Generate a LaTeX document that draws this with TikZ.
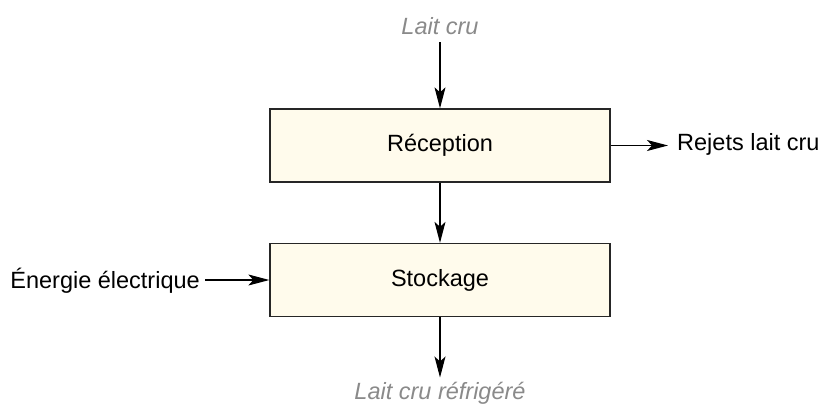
\documentclass[tikz,border=0pt]{standalone}
\usepackage{fontspec}
\setmainfont{Liberation Sans}
\usetikzlibrary{arrows.meta}
\definecolor{boxfill}{HTML}{FFFBEC}
\definecolor{flowgray}{HTML}{8A8A8A}
\begin{document}
\begin{tikzpicture}[x=1pt,y=-1pt,
  every node/.style={font=\fontsize{23.5}{28}\selectfont},
  stepbox/.style={draw=black!85,line width=1.3pt,fill=boxfill,
    minimum width=340pt,minimum height=73pt,inner sep=0pt},
  flowin/.style={text=flowgray,font=\fontsize{23.5}{28}\selectfont\itshape,inner sep=0pt},
  side/.style={inner sep=0pt},
  arr/.style={line width=1.2pt,-{Stealth[length=21pt,width=11pt,inset=5pt]}}]
\useasboundingbox (0,0) rectangle (826,406);

% process boxes
\node[stepbox] (rec) at (440,145.5) {Réception};
\node[stepbox] (stk) at (440,280) {Stockage};

% inputs and outputs
\node[flowin,anchor=base] (lait) at (440,35) {Lait cru};
\node[flowin,anchor=base] (out) at (440,399) {Lait cru réfrigéré};
\node[side,anchor=base west] (rej) at (677,150) {Rejets lait cru};
\node[side,anchor=base east] (ener) at (200,288) {Énergie électrique};

% flows
\draw[arr] ([yshift=-7pt]lait.south) -- (rec.north);
\draw[arr] (rec.south) -- (stk.north);
\draw[arr] (stk.south) -- ([yshift=4pt]out.north);
\draw[arr] (rec.east) -- ([xshift=-9pt]rec.east -| rej.west);
\draw[arr] ([xshift=5pt]ener.east |- stk.west) -- (stk.west);
\end{tikzpicture}
\end{document}
